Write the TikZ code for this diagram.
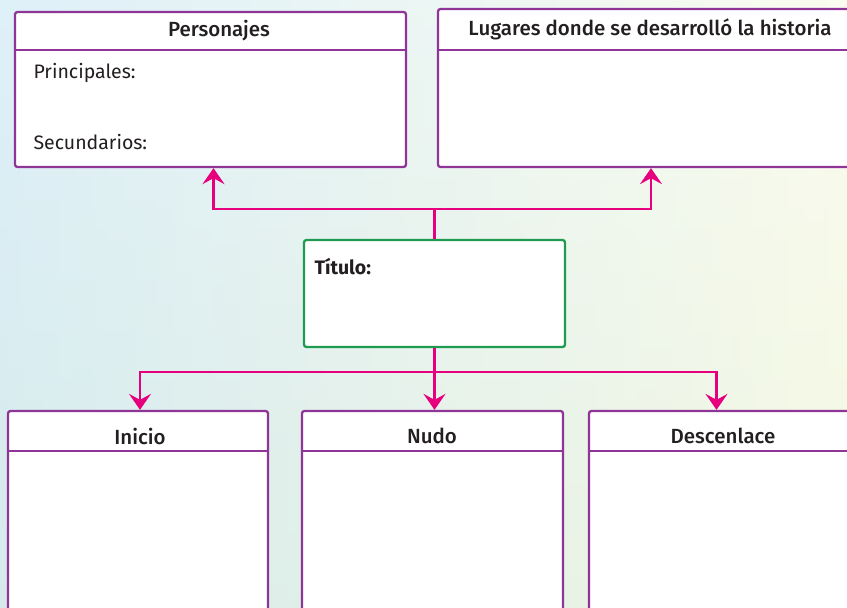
\documentclass[tikz,border=0pt]{standalone}
\usepackage{fontspec}
\setmainfont{Fira Sans}
\newfontfamily\medfont{Fira Sans Medium}
\usetikzlibrary{arrows.meta}
\definecolor{plum}{RGB}{142, 53, 151}
\definecolor{fuchsia}{RGB}{230, 0, 126}
\definecolor{leafgreen}{RGB}{30, 155, 80}
\definecolor{skyblue}{RGB}{196, 228, 244}
\definecolor{mistwhite}{RGB}{246, 249, 244}
\definecolor{palesage}{RGB}{236, 243, 226}
\definecolor{palelime}{RGB}{247, 250, 226}
\definecolor{inkgray}{RGB}{35, 31, 32}

\begin{document}
\begin{tikzpicture}[x=1pt, y=-1pt,
    card/.style={draw=plum, line width=2.3pt, fill=white, rounded corners=2.5pt, inner sep=0pt},
    titlecard/.style={card, draw=leafgreen},
    headtext/.style={font=\medfont\fontsize{20.5}{23}\selectfont, text=inkgray},
    bodytext/.style={font=\fontsize{19.5}{22}\selectfont, text=inkgray, anchor=west},
    wire/.style={draw=fuchsia, line width=2.3pt},
    link/.style={wire, -{Stealth[length=16pt, width=22pt, inset=6pt]}}]
  \useasboundingbox (0,0) rectangle (847,608);
  \clip (0,0) rectangle (847,608);
  \shade[left color=skyblue, right color=palelime] (0,0) rectangle (847,608);
  \shade[top color=white, bottom color=palesage, opacity=0.45] (0,0) rectangle (847,608);

  % top row
  \node[card, minimum width=391pt, minimum height=155pt] (personajes) at (210.5,89.5) {};
  \node[card, minimum width=414pt, minimum height=158pt] (lugares) at (645,88) {};
  \draw[plum, line width=2pt] ([yshift=-39pt]personajes.north west) -- ([yshift=-39pt]personajes.north east);
  \draw[plum, line width=2pt] ([yshift=-42pt]lugares.north west) -- ([yshift=-42pt]lugares.north east);
  \node[headtext] (personajeslabel) at (219,31) {Personajes};
  \node[headtext] (lugareslabel) at (650,29) {Lugares donde se desarrolló la historia};
  \node[bodytext] (principales) at (30,73) {Principales:};
  \node[bodytext] (secundarios) at (30,142) {Secundarios:};

  % title
  \node[titlecard, minimum width=261pt, minimum height=107pt] (titulo) at (434.5,293.5) {};
  \node[bodytext, font=\fontsize{19.5}{22}\selectfont\bfseries] (titulolabel) at (311,267) {Título:};

  % bottom row
  \node[card, minimum width=260pt, minimum height=209pt] (inicio) at (138,515.5) {};
  \node[card, minimum width=261pt, minimum height=209pt] (nudo) at (432.5,515.5) {};
  \node[card, minimum width=271pt, minimum height=209pt] (descenlace) at (724.5,515.5) {};
  \foreach \card in {inicio, nudo, descenlace}
    \draw[plum, line width=2pt] ([yshift=-41pt]\card.north west) -- ([yshift=-41pt]\card.north east);
  \node[headtext] (iniciolabel) at (140,436) {Inicio};
  \node[headtext] (nudolabel) at (432,436) {Nudo};
  \node[headtext] (descenlacelabel) at (723,436) {Descenlace};

  % connectors
  \coordinate (topjoin) at (titulo.north |- 0,209);
  \coordinate (lowjoin) at (titulo.south |- 0,372);
  \draw[wire] (titulo.north) -- (topjoin);
  \draw[link] (topjoin) -| ([xshift=3pt]personajes.south);
  \draw[link] (topjoin) -| ([xshift=6pt]lugares.south);
  \draw[link] (titulo.south) -- (titulo.south |- nudo.north);
  \draw[link] (lowjoin) -| ([xshift=2pt]inicio.north);
  \draw[link] (lowjoin) -| ([xshift=-8pt]descenlace.north);
\end{tikzpicture}
\end{document}
